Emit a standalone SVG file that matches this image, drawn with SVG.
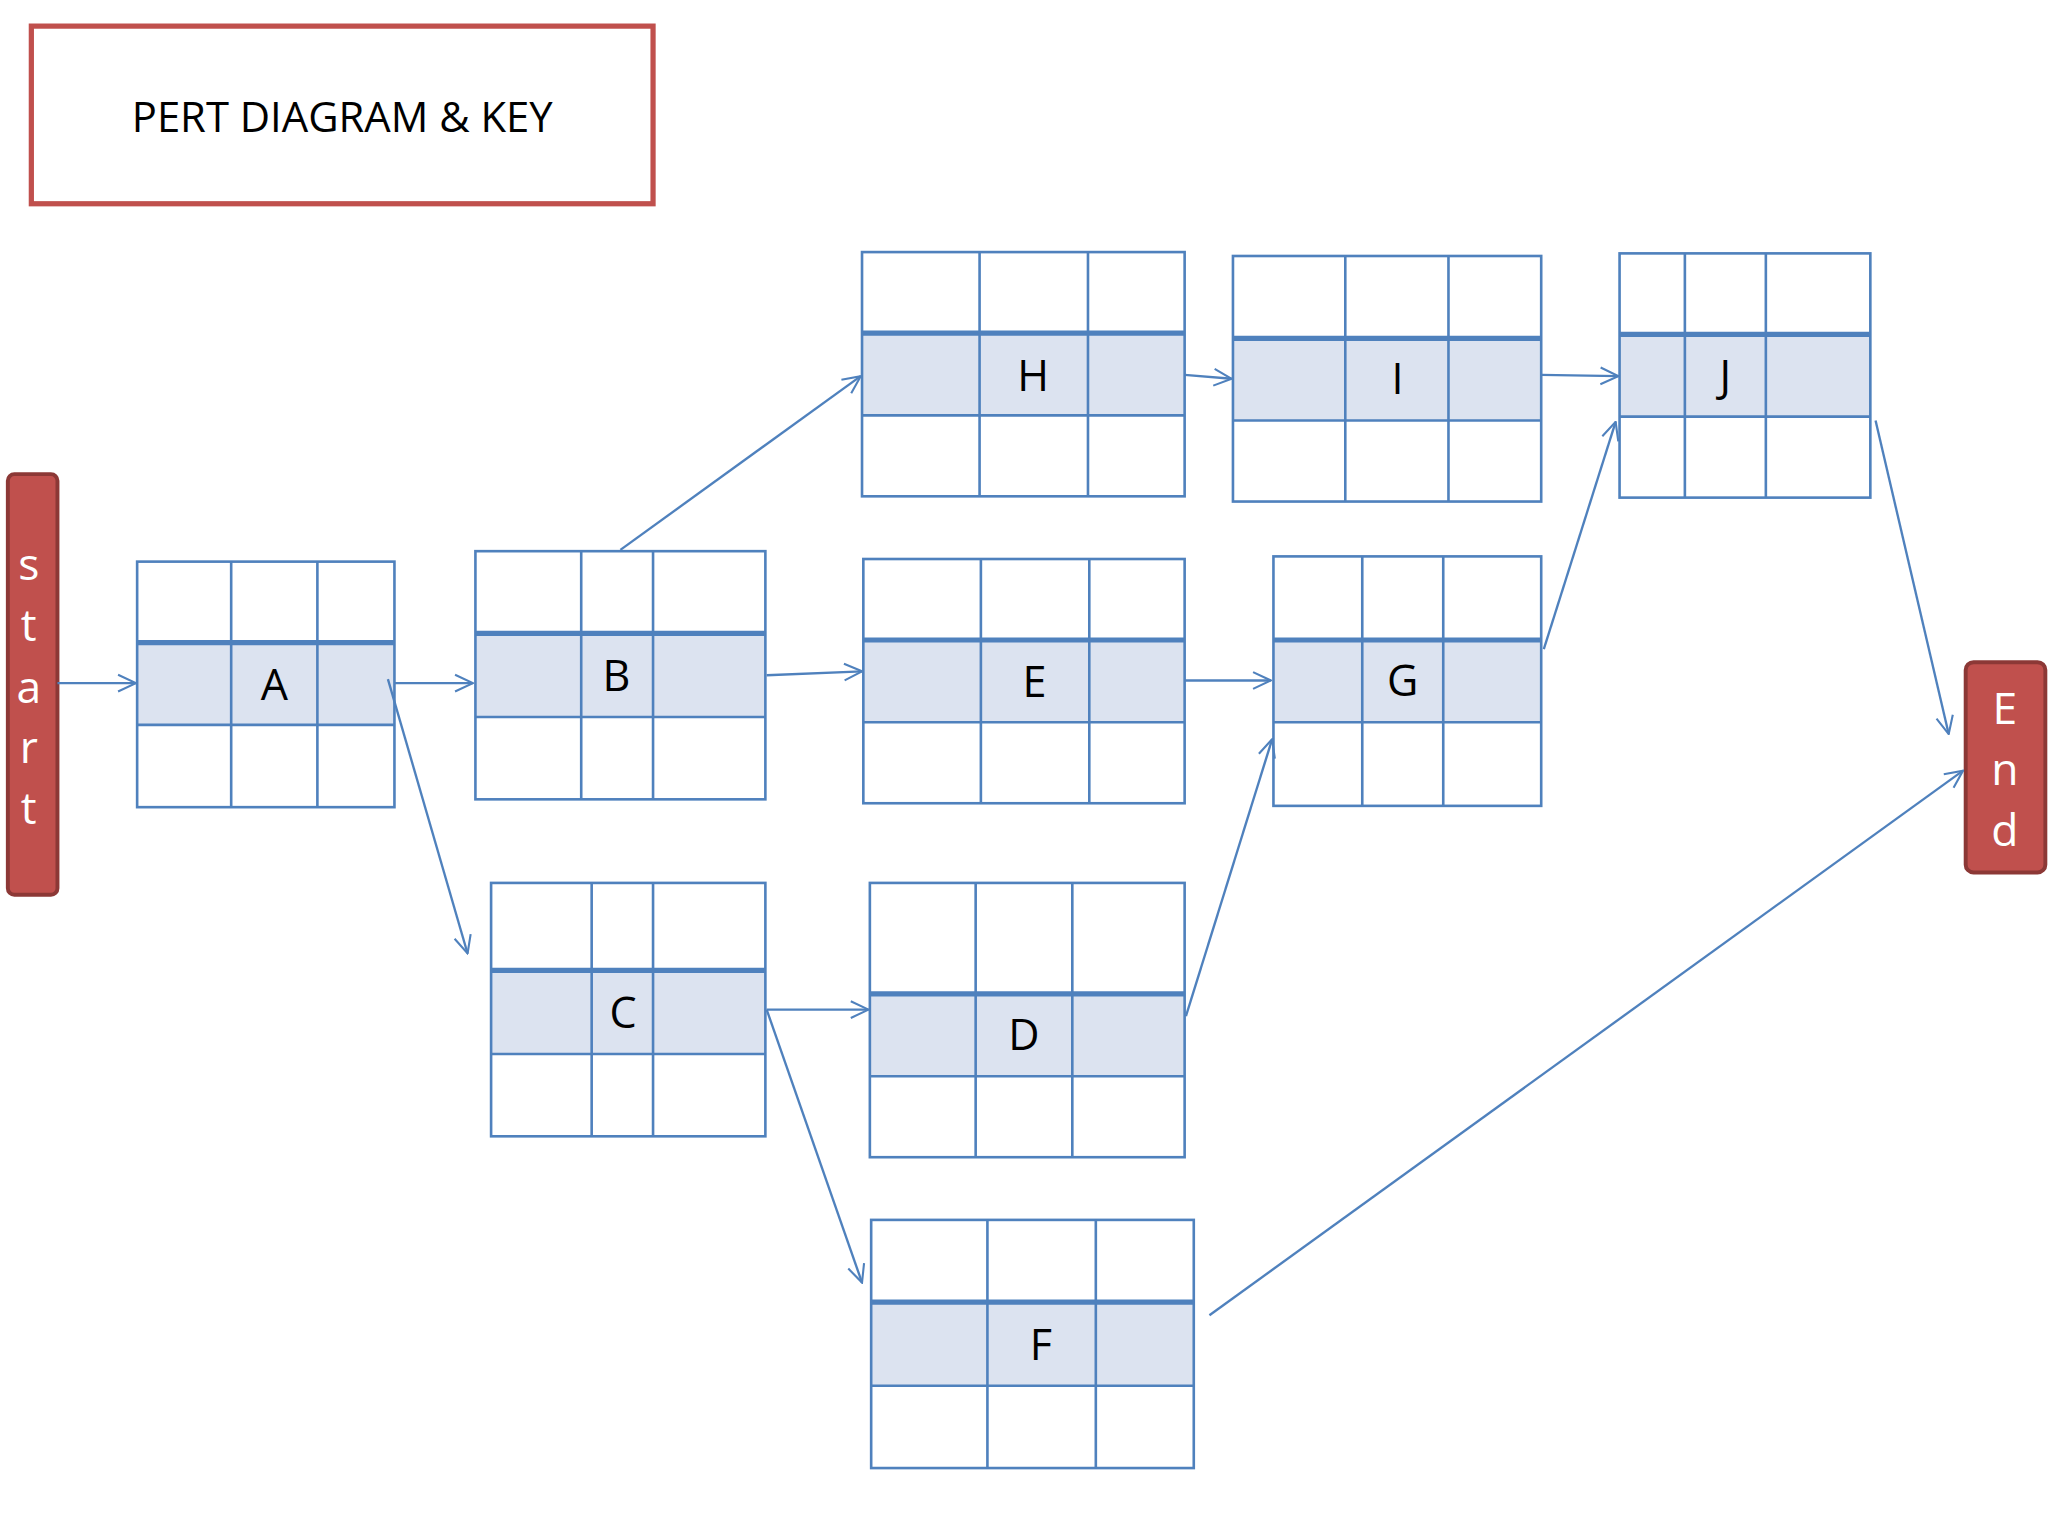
<svg xmlns="http://www.w3.org/2000/svg" width="2048" height="1536" viewBox="0 0 2048 1536">
<style>
.c{fill:none;stroke:#4f81bd;stroke-width:2}
.m{fill:#dce3f0;stroke:none}
.t{stroke:#4f81bd;stroke-width:4}
.lbl{font-family:"Open Sans","Liberation Sans",sans-serif;font-size:33px;fill:#000;text-anchor:middle}
.w{font-family:"Open Sans","Liberation Sans",sans-serif;font-size:34px;fill:#fff;text-anchor:middle}
.a{fill:none;stroke:#4f81bd;stroke-width:1.8;marker-end:url(#ah)}
</style>
<defs>
<marker id="ah" viewBox="0 0 20 20" refX="19" refY="10" markerWidth="16" markerHeight="16" markerUnits="userSpaceOnUse" orient="auto">
<polyline points="2,2 19,10 2,18" fill="none" stroke="#4f81bd" stroke-width="2"/>
</marker>
</defs>
<rect width="2048" height="1536" fill="#fff"/>
<g transform="scale(1.3061)">
<g id="title"><rect x="24" y="20" width="476" height="136" fill="#fff" stroke="#c0504d" stroke-width="4"/><text x="262" y="101" class="lbl" style="font-size:32px">PERT DIAGRAM &amp; KEY</text></g>
<g id="start"><rect x="6" y="363" width="38" height="322" rx="5" fill="#c0504d" stroke="#8c3836" stroke-width="3"/>
<text class="w" x="22" y="444">s</text><text class="w" x="22" y="491">t</text><text class="w" x="22" y="538">a</text><text class="w" x="22" y="584">r</text><text class="w" x="22" y="631">t</text></g>
<g id="end"><rect x="1505" y="507" width="61" height="161" rx="6" fill="#c0504d" stroke="#8c3836" stroke-width="3"/>
<text class="w" x="1535" y="554">E</text><text class="w" x="1535" y="601">n</text><text class="w" x="1535" y="648">d</text></g>

<g id="A"><rect class="m" x="105" y="492" width="197" height="63"/><rect class="c" x="105" y="430" width="197" height="188"/><line class="c" x1="177" y1="430" x2="177" y2="618"/><line class="c" x1="243" y1="430" x2="243" y2="618"/><line class="t" x1="105" y1="492" x2="302" y2="492"/><line class="c" x1="105" y1="555" x2="302" y2="555"/><text class="lbl" x="210" y="536">A</text></g>
<g id="B"><rect class="m" x="364" y="485" width="222" height="64"/><rect class="c" x="364" y="422" width="222" height="190"/><line class="c" x1="445" y1="422" x2="445" y2="612"/><line class="c" x1="500" y1="422" x2="500" y2="612"/><line class="t" x1="364" y1="485" x2="586" y2="485"/><line class="c" x1="364" y1="549" x2="586" y2="549"/><text class="lbl" x="472" y="529">B</text></g>
<g id="C"><rect class="m" x="376" y="743" width="210" height="64"/><rect class="c" x="376" y="676" width="210" height="194"/><line class="c" x1="453" y1="676" x2="453" y2="870"/><line class="c" x1="500" y1="676" x2="500" y2="870"/><line class="t" x1="376" y1="743" x2="586" y2="743"/><line class="c" x1="376" y1="807" x2="586" y2="807"/><text class="lbl" x="477" y="787">C</text></g>
<g id="D"><rect class="m" x="666" y="761" width="241" height="63"/><rect class="c" x="666" y="676" width="241" height="210"/><line class="c" x1="747" y1="676" x2="747" y2="886"/><line class="c" x1="821" y1="676" x2="821" y2="886"/><line class="t" x1="666" y1="761" x2="907" y2="761"/><line class="c" x1="666" y1="824" x2="907" y2="824"/><text class="lbl" x="784" y="804">D</text></g>
<g id="E"><rect class="m" x="661" y="490" width="246" height="63"/><rect class="c" x="661" y="428" width="246" height="187"/><line class="c" x1="751" y1="428" x2="751" y2="615"/><line class="c" x1="834" y1="428" x2="834" y2="615"/><line class="t" x1="661" y1="490" x2="907" y2="490"/><line class="c" x1="661" y1="553" x2="907" y2="553"/><text class="lbl" x="792" y="534">E</text></g>
<g id="F"><rect class="m" x="667" y="997" width="247" height="64"/><rect class="c" x="667" y="934" width="247" height="190"/><line class="c" x1="756" y1="934" x2="756" y2="1124"/><line class="c" x1="839" y1="934" x2="839" y2="1124"/><line class="t" x1="667" y1="997" x2="914" y2="997"/><line class="c" x1="667" y1="1061" x2="914" y2="1061"/><text class="lbl" x="797" y="1041">F</text></g>
<g id="G"><rect class="m" x="975" y="490" width="205" height="63"/><rect class="c" x="975" y="426" width="205" height="191"/><line class="c" x1="1043" y1="426" x2="1043" y2="617"/><line class="c" x1="1105" y1="426" x2="1105" y2="617"/><line class="t" x1="975" y1="490" x2="1180" y2="490"/><line class="c" x1="975" y1="553" x2="1180" y2="553"/><text class="lbl" x="1074" y="533">G</text></g>
<g id="H"><rect class="m" x="660" y="255" width="247" height="63"/><rect class="c" x="660" y="193" width="247" height="187"/><line class="c" x1="750" y1="193" x2="750" y2="380"/><line class="c" x1="833" y1="193" x2="833" y2="380"/><line class="t" x1="660" y1="255" x2="907" y2="255"/><line class="c" x1="660" y1="318" x2="907" y2="318"/><text class="lbl" x="791" y="299">H</text></g>
<g id="I"><rect class="m" x="944" y="259" width="236" height="63"/><rect class="c" x="944" y="196" width="236" height="188"/><line class="c" x1="1030" y1="196" x2="1030" y2="384"/><line class="c" x1="1109" y1="196" x2="1109" y2="384"/><line class="t" x1="944" y1="259" x2="1180" y2="259"/><line class="c" x1="944" y1="322" x2="1180" y2="322"/><text class="lbl" x="1070" y="302">I</text></g>
<g id="J"><rect class="m" x="1240" y="256" width="192" height="63"/><rect class="c" x="1240" y="194" width="192" height="187"/><line class="c" x1="1290" y1="194" x2="1290" y2="381"/><line class="c" x1="1352" y1="194" x2="1352" y2="381"/><line class="t" x1="1240" y1="256" x2="1432" y2="256"/><line class="c" x1="1240" y1="319" x2="1432" y2="319"/><text class="lbl" x="1321" y="299">J</text></g>

<g id="connectors">
<line class="a" x1="44" y1="523" x2="104" y2="523"/>
<line class="a" x1="302" y1="523" x2="362" y2="523"/>
<line class="a" x1="297" y1="520" x2="358" y2="730"/>
<line class="a" x1="475" y1="421" x2="659" y2="288"/>
<line class="a" x1="587" y1="517" x2="660" y2="514"/>
<line class="a" x1="907" y1="287" x2="943" y2="290"/>
<line class="a" x1="1180" y1="287" x2="1239" y2="288"/>
<line class="a" x1="907" y1="521" x2="973" y2="521"/>
<line class="a" x1="587" y1="773" x2="665" y2="773"/>
<line class="a" x1="587" y1="773" x2="660" y2="982"/>
<line class="a" x1="908" y1="778" x2="974" y2="566"/>
<line class="a" x1="1182" y1="497" x2="1237" y2="323"/>
<line class="a" x1="1436" y1="322" x2="1492" y2="562"/>
<line class="a" x1="926" y1="1007" x2="1503" y2="590"/>
</g>
</g>
</svg>
